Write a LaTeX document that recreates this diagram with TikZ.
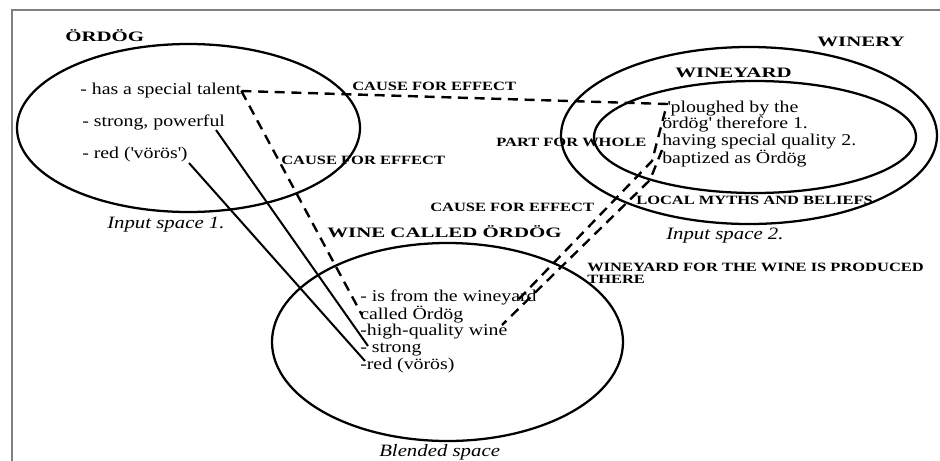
\documentclass[tikz,border=0pt]{standalone}
\usepackage{fontspec}
\setmainfont{Liberation Serif}
\newfontfamily\bodyf{Liberation Serif}[FakeStretch=1.2]
\newfontfamily\lblf{Liberation Serif}[FakeStretch=1.3]
\newfontfamily\headf{Liberation Serif}[FakeStretch=1.45]
\usetikzlibrary{shapes.geometric}
\begin{document}
\begin{tikzpicture}[x=0.75pt,y=-0.75pt,
  txt/.style={inner sep=0pt, anchor=west, font=\bodyf\fontsize{12.4}{12.4}\selectfont, align=left},
  lbl/.style={inner sep=0pt, anchor=west, font=\lblf\bfseries\fontsize{9.5}{9.2}\selectfont, align=left},
  head/.style={inner sep=0pt, anchor=west, font=\headf\bfseries\fontsize{10.8}{10.8}\selectfont},
  captext/.style={inner sep=0pt, anchor=west, font=\bodyf\itshape\fontsize{13}{13}\selectfont},
  space/.style={draw, ellipse, inner sep=0pt, line width=1.7pt},
  link/.style={line width=1.5pt},
  dlink/.style={line width=1.8pt, dash pattern=on 7.5pt off 5pt},
  frame/.style={draw=gray, line width=1.5pt}]
\useasboundingbox (0,0) rectangle (940,461);
\draw[frame] (11.5,461) -- (11.5,9.5) -- (940,9.5);

% spaces
\node[space, minimum width=257.25pt, minimum height=126pt] (e1) at (188.5,128) {};
\node[space, minimum width=282pt, minimum height=132.75pt] (ewinery) at (749,135.5) {};
\node[space, minimum width=241.5pt, minimum height=84pt] (ewineyard) at (755,137) {};
\node[space, minimum width=263.25pt, minimum height=148.5pt] (eblend) at (447.5,342) {};

% headings
\node[head] (hordog) at (65,36) {ÖRDÖG};
\node[head] (hwinery) at (817,42) {WINERY};
\node[head] (hwineyard) at (675,73) {WINEYARD};
\node[head] (hwine) at (327,232) {WINE CALLED ÖRDÖG};

% input space 1
\node[txt] (t1) at (80,91) {- has a special talent};
\node[txt] (t2) at (82,122) {- strong, powerful};
\node[txt] (t3) at (82,155) {- red (\textquotesingle vörös\textquotesingle)};

% input space 2
\node[txt] (r) at (662,134) {\hspace*{4pt}\textquotesingle ploughed by the\\ördög\textquotesingle\ therefore 1.\\having special quality 2.\\baptized as Ördög};

% blended
\node[txt] (b) at (360,331) {- is from the wineyard\\called Ördög\\-high-quality wine\\- strong\\-red (vörös)};

% labels
\node[lbl] (c1) at (352,86) {CAUSE FOR EFFECT};
\node[lbl] (c2) at (281,160) {CAUSE FOR EFFECT};
\node[lbl] (c3) at (430,207) {CAUSE FOR EFFECT};
\node[lbl] (pw) at (496,142) {PART FOR WHOLE};
\node[lbl] (lm) at (636,200) {LOCAL MYTHS AND BELIEFS};
\node[lbl] (wy) at (587,273) {WINEYARD FOR THE WINE IS PRODUCED\\THERE};

% captions
\node[captext] (i1) at (107,225) {Input space 1.};
\node[captext] (i2) at (666,236) {Input space 2.};
\node[captext] (i3) at (379,452) {Blended space};

% connector points
\coordinate (pow) at (216,130);
\coordinate (vor) at (189,163);
\coordinate (bstrong) at (368,346);
\coordinate (bred) at (365,361);
\coordinate (bcalled) at (362,315);
\coordinate (plough) at (667,104);
\coordinate (bend1) at (652,161);
\coordinate (bwineyard) at (517,301);
\coordinate (bapt) at (662,150);
\coordinate (bend2) at (650,180);
\coordinate (bhigh) at (502,325);

% connectors
\draw[link] (pow) -- (bstrong);
\draw[link] (vor) -- (bred);
\draw[dlink] (t1.east) -- (bcalled);
\draw[dlink] (t1.east) -- (plough) -- (bend1) -- (bwineyard);
\draw[dlink] (bapt) -- (bend2) -- (bhigh);
\end{tikzpicture}
\end{document}
